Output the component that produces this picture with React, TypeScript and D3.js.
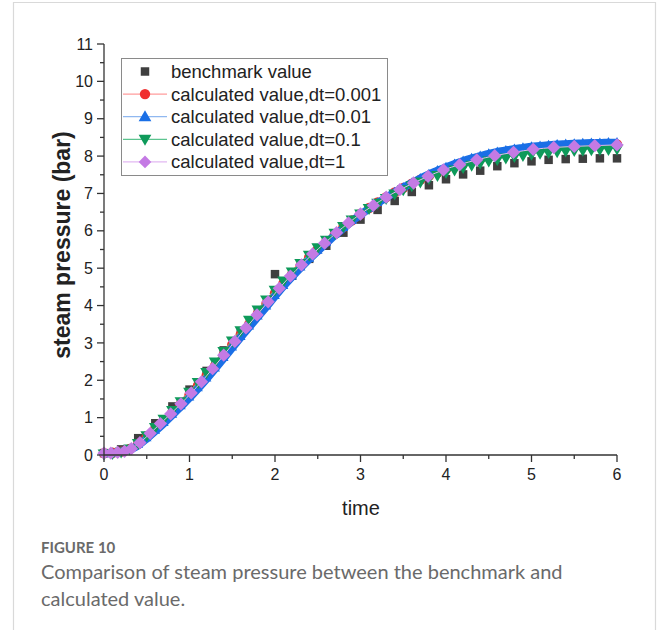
import React from "react";
import * as d3 from "d3";

const benchTime = [0, 0.2, 0.4, 0.6, 0.8, 1.0, 1.2, 1.4, 1.6, 1.8, 2.0, 2.2, 2.4, 2.6, 2.8, 3.0, 3.2, 3.4, 3.6, 3.8, 4.0, 4.2, 4.4, 4.6, 4.8, 5.0, 5.2, 5.4, 5.6, 5.8, 6.0];
const benchValues = [0.05, 0.15, 0.45, 0.85, 1.3, 1.75, 2.25, 2.8, 3.3, 3.85, 4.84, 4.8, 5.25, 5.6, 5.95, 6.3, 6.56, 6.8, 7.04, 7.22, 7.38, 7.51, 7.61, 7.73, 7.81, 7.86, 7.9, 7.92, 7.93, 7.94, 7.94];

const calcTime = [0, 0.1, 0.2, 0.3, 0.4, 0.5, 0.6, 0.7, 0.8, 0.9, 1.0, 1.1, 1.2, 1.3, 1.4, 1.5, 1.6, 1.7, 1.8, 1.9, 2.0, 2.1, 2.2, 2.3, 2.4, 2.5, 2.6, 2.7, 2.8, 2.9, 3.0, 3.1, 3.2, 3.3, 3.4, 3.5, 3.6, 3.7, 3.8, 3.9, 4.0, 4.1, 4.2, 4.3, 4.4, 4.5, 4.6, 4.7, 4.8, 4.9, 5.0, 5.1, 5.2, 5.3, 5.4, 5.5, 5.6, 5.7, 5.8, 5.9, 6.0];
const dt0001Values = [0.05, 0.06, 0.09, 0.16, 0.3, 0.5, 0.71, 0.92, 1.14, 1.37, 1.61, 1.86, 2.12, 2.39, 2.67, 2.95, 3.23, 3.51, 3.78, 4.05, 4.33, 4.6, 4.84, 5.07, 5.29, 5.5, 5.71, 5.91, 6.1, 6.28, 6.45, 6.61, 6.76, 6.9, 7.03, 7.15, 7.26, 7.37, 7.47, 7.56, 7.65, 7.73, 7.8, 7.87, 7.93, 7.98, 8.03, 8.07, 8.11, 8.14, 8.17, 8.2, 8.22, 8.24, 8.26, 8.27, 8.28, 8.29, 8.3, 8.3, 8.31];
const dt001Values = [0.05, 0.05, 0.08, 0.14, 0.26, 0.44, 0.64, 0.85, 1.07, 1.3, 1.53, 1.78, 2.04, 2.31, 2.59, 2.87, 3.15, 3.43, 3.7, 3.97, 4.25, 4.52, 4.77, 5.01, 5.24, 5.46, 5.67, 5.88, 6.07, 6.26, 6.43, 6.59, 6.74, 6.89, 7.03, 7.16, 7.28, 7.4, 7.51, 7.61, 7.7, 7.79, 7.87, 7.94, 8.0, 8.06, 8.11, 8.15, 8.19, 8.22, 8.25, 8.27, 8.29, 8.31, 8.32, 8.33, 8.34, 8.35, 8.35, 8.36, 8.36];
const dt01Values = [0.05, 0.06, 0.1, 0.18, 0.33, 0.54, 0.76, 0.98, 1.21, 1.45, 1.7, 1.96, 2.23, 2.51, 2.79, 3.07, 3.35, 3.63, 3.9, 4.17, 4.43, 4.68, 4.92, 5.15, 5.37, 5.57, 5.77, 5.96, 6.14, 6.31, 6.47, 6.62, 6.76, 6.89, 7.01, 7.12, 7.23, 7.33, 7.42, 7.5, 7.58, 7.65, 7.72, 7.78, 7.84, 7.89, 7.93, 7.97, 8.01, 8.04, 8.07, 8.1, 8.12, 8.14, 8.16, 8.17, 8.18, 8.19, 8.2, 8.2, 8.21];

const dt1Time = [0, 0.08, 0.16, 0.24, 0.32, 0.42, 0.54, 0.66, 0.78, 0.9, 1.02, 1.14, 1.27, 1.4, 1.53, 1.66, 1.79, 1.92, 2.05, 2.18, 2.31, 2.44, 2.58, 2.72, 2.86, 3.0, 3.15, 3.3, 3.46, 3.62, 3.79, 3.97, 4.16, 4.36, 4.57, 4.79, 5.02, 5.26, 5.5, 5.74, 6.0];
const dt1Values = [0.05, 0.05, 0.07, 0.1, 0.17, 0.33, 0.58, 0.84, 1.1, 1.37, 1.66, 1.96, 2.31, 2.67, 3.04, 3.4, 3.75, 4.1, 4.46, 4.79, 5.09, 5.38, 5.67, 5.95, 6.21, 6.45, 6.68, 6.9, 7.1, 7.28, 7.46, 7.63, 7.77, 7.9, 8.01, 8.1, 8.18, 8.23, 8.26, 8.28, 8.3];

const xTicks = [0, 1, 2, 3, 4, 5, 6];
const yTicks = [0, 1, 2, 3, 4, 5, 6, 7, 8, 9, 10, 11];
const legendLabels = [
  "benchmark value",
  "calculated value,dt=0.001",
  "calculated value,dt=0.01",
  "calculated value,dt=0.1",
  "calculated value,dt=1",
];

const W = 658;
const H = 630;
const FONT = "Arial, 'Liberation Sans', Helvetica, sans-serif";
const CAP_FONT = "Lato, 'Open Sans', sans-serif";

export default function App() {
  const x = d3.scaleLinear().domain([0, 6]).range([104, 617]);
  const y = d3.scaleLinear().domain([0, 11]).range([455, 44]);

  const bench = benchTime.map((t, i) => [t, benchValues[i]] as [number, number]);
  const red = calcTime.map((t, i) => [t, dt0001Values[i]] as [number, number]);
  const blue = calcTime.map((t, i) => [t, dt001Values[i]] as [number, number]);
  const green = calcTime.map((t, i) => [t, dt01Values[i]] as [number, number]);
  const purple = dt1Time.map((t, i) => [t, dt1Values[i]] as [number, number]);

  const line = d3
    .line<[number, number]>()
    .x((d) => x(d[0]))
    .y((d) => y(d[1]))
    .curve(d3.curveMonotoneX);

  const sq = d3.symbol().type(d3.symbolSquare).size(72)() as string;
  const circ = d3.symbol().type(d3.symbolCircle).size(85)() as string;
  const triSmall = d3.symbol().type(d3.symbolTriangle).size(40)() as string;
  const tri = d3.symbol().type(d3.symbolTriangle).size(70)() as string;
  const diam = d3.symbol().type(d3.symbolSquare).size(88)() as string;
  const legTri = d3.symbol().type(d3.symbolTriangle).size(70)() as string;
  const legDiam = d3.symbol().type(d3.symbolSquare).size(80)() as string;

  const cBench = "#3f3f3f";
  const cRed = "#f03030";
  const cBlue = "#1a6fe6";
  const cGreen = "#0e9a5a";
  const cPurple = "#c47ae4";

  const minorY = d3.range(0, 11, 1).map((v) => v + 0.5);
  const minorX = d3.range(0, 6, 1).map((v) => v + 0.5);

  const legX = 121;
  const legY = 58;
  const rowY = (i: number) => legY + 13.5 + i * 22.6;
  const mX = 145;

  const legendLine = ["none", "#ff9c9c", "#90b8f0", "#5cc48f", "#e2b8f2"];

  const marker = (i: number, px: number, py: number) => {
    if (i === 0) return <path d={sq} transform={`translate(${px},${py})`} fill={cBench} />;
    if (i === 1) return <path d={circ} transform={`translate(${px},${py})`} fill={cRed} />;
    if (i === 2) return <path d={legTri} transform={`translate(${px},${py + 1})`} fill={cBlue} />;
    if (i === 3) return <path d={legTri} transform={`translate(${px},${py - 1}) rotate(180)`} fill={cGreen} />;
    return <path d={legDiam} transform={`translate(${px},${py}) rotate(45)`} fill={cPurple} />;
  };

  return (
    <div style={{ position: "absolute", left: 0, top: 0, width: W, height: H, background: "#fff" }}>
      <svg width={W} height={H} viewBox={`0 0 ${W} ${H}`} style={{ display: "block" }}>
        <rect x={0} y={0} width={W} height={H} fill="#fff" />
        <path d={`M13.5,${H} V2.5 H655.5 V${H}`} fill="none" stroke="#d9d9d9" strokeWidth={1.2} />

        {/* benchmark squares */}
        <g>
          {bench.map((d, i) => (
            <path key={i} d={sq} transform={`translate(${x(d[0])},${y(d[1])})`} fill={cBench} />
          ))}
        </g>
        {/* dt=0.001 red */}
        <path d={line(red) as string} fill="none" stroke={cRed} strokeWidth={6} />
        {red.map((d, i) => (
          <path key={i} d={circ} transform={`translate(${x(d[0])},${y(d[1])})`} fill={cRed} />
        ))}
        {/* dt=0.01 blue */}
        <path d={line(blue) as string} fill="none" stroke={cBlue} strokeWidth={8} />
        {blue.map((d, i) => (
          <path key={i} d={triSmall} transform={`translate(${x(d[0])},${y(d[1])})`} fill={cBlue} />
        ))}
        {/* dt=0.1 green */}
        <path d={line(green) as string} fill="none" stroke="#5cc48f" strokeWidth={1} />
        {green.map((d, i) => (
          <path key={i} d={tri} transform={`translate(${x(d[0])},${y(d[1])}) rotate(180)`} fill={cGreen} />
        ))}
        {/* dt=1 purple */}
        <path d={line(purple) as string} fill="none" stroke="#e2b8f2" strokeWidth={1} />
        {purple.map((d, i) => (
          <path key={i} d={diam} transform={`translate(${x(d[0])},${y(d[1])}) rotate(45)`} fill={cPurple} />
        ))}

        {/* axes */}
        <g stroke="#333" strokeWidth={1.3} fill="none">
          <line x1={x(0)} x2={x(0)} y1={y(0)} y2={y(11)} />
          <line x1={x(0)} x2={x(6)} y1={y(0)} y2={y(0)} />
          {yTicks.map((v) => (
            <line key={"yt" + v} x1={x(0) - 7} x2={x(0)} y1={y(v)} y2={y(v)} />
          ))}
          {minorY.map((v) => (
            <line key={"ym" + v} x1={x(0) - 4} x2={x(0)} y1={y(v)} y2={y(v)} />
          ))}
          {xTicks.map((v) => (
            <line key={"xt" + v} x1={x(v)} x2={x(v)} y1={y(0)} y2={y(0) + 7} />
          ))}
          {minorX.map((v) => (
            <line key={"xm" + v} x1={x(v)} x2={x(v)} y1={y(0)} y2={y(0) + 4} />
          ))}
        </g>
        <g fontFamily={FONT} fontSize={16} fill="#222">
          {yTicks.map((v) => (
            <text key={"yl" + v} x={x(0) - 11} y={y(v)} dy="0.35em" textAnchor="end">
              {v}
            </text>
          ))}
          {xTicks.map((v) => (
            <text key={"xl" + v} x={x(v)} y={y(0) + 25} textAnchor="middle">
              {v}
            </text>
          ))}
        </g>
        <text x={361} y={515} textAnchor="middle" fontFamily={FONT} fontSize={20} fill="#222">
          time
        </text>
        <text
          transform={`translate(70,245) rotate(-90)`}
          textAnchor="middle"
          fontFamily={FONT}
          fontSize={23}
          fontWeight={700}
          fill="#222"
        >
          steam pressure (bar)
        </text>

        {/* legend */}
        <rect x={legX + 0.5} y={legY + 0.5} width={266} height={117} fill="#fff" stroke="#8a8a8a" strokeWidth={1} />
        {legendLabels.map((lab, i) => (
          <g key={lab}>
            {i > 0 && (
              <line x1={123} x2={167} y1={rowY(i)} y2={rowY(i)} stroke={legendLine[i]} strokeWidth={1.3} />
            )}
            {marker(i, mX, rowY(i))}
            <text x={171} y={rowY(i)} dy="0.35em" fontFamily={FONT} fontSize={18.5} fill="#222">
              {lab}
            </text>
          </g>
        ))}

        {/* caption */}
        <text x={41} y={553} fontFamily={CAP_FONT} fontSize={15} fill="#6a6a6a" fontWeight={700}>
          FIGURE 10
        </text>
        <text x={41} y={579} fontFamily={CAP_FONT} fontSize={20} fill="#6a6a6a">
          Comparison of steam pressure between the benchmark and
        </text>
        <text x={41} y={606} fontFamily={CAP_FONT} fontSize={20} fill="#6a6a6a">
          calculated value.
        </text>
      </svg>
    </div>
  );
}
